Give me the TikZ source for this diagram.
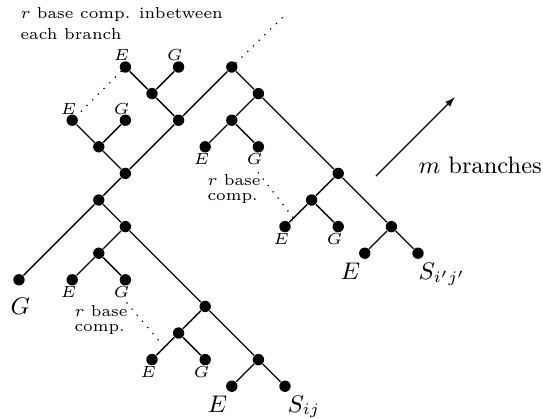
\documentclass[tikz,border=0pt]{standalone}
\usetikzlibrary{arrows.meta,calc}
\begin{document}
\begin{tikzpicture}[x=9.948pt,y=-9.948pt,
  dot/.style={circle,fill=black,inner sep=0pt,minimum size=4.25pt},
  edge/.style={line width=0.5pt},
  dots/.style={line width=0.65pt,dash pattern=on 0pt off 3pt,line cap=round},
  sl/.style={anchor=base west,inner sep=0pt,font=\fontsize{6}{7}\selectfont},
  bl/.style={anchor=base west,inner sep=0pt,font=\fontsize{8.9}{10}\selectfont},
  tl/.style={anchor=base west,inner sep=0pt,font=\fontsize{5.9}{7}\selectfont}]
\useasboundingbox (-0.714,-2.519) rectangle (19.699,13.195);
% right subtree
\node[dot] (a0) at (8,0) {};
\node[dot] (a1) at (9,1) {};
\node[dot] (a2) at (8,2) {};
\node[dot] (a3) at (7,3) {};
\node[dot] (a4) at (9,3) {};
\node[dot] (a5) at (12,4) {};
\node[dot] (a6) at (11,5) {};
\node[dot] (a7) at (10,6) {};
\node[dot] (a8) at (12,6) {};
\node[dot] (a9) at (14,6) {};
\node[dot] (a10) at (13,7) {};
\node[dot] (a11) at (15,7) {};
% left part
\node[dot] (b1) at (4,0) {};
\node[dot] (b2) at (6,0) {};
\node[dot] (b3) at (5,1) {};
\node[dot] (b4) at (6,2) {};
\node[dot] (b5) at (2,2) {};
\node[dot] (b6) at (4,2) {};
\node[dot] (b7) at (3,3) {};
\node[dot] (b8) at (4,4) {};
\node[dot] (b9) at (3,5) {};
\node[dot] (b10) at (0,8) {};
\node[dot] (b11) at (4,6) {};
\node[dot] (b12) at (3,7) {};
\node[dot] (b13) at (2,8) {};
\node[dot] (b14) at (4,8) {};
\node[dot] (b15) at (7,9) {};
\node[dot] (b16) at (6,10) {};
\node[dot] (b17) at (5,11) {};
\node[dot] (b18) at (7,11) {};
\node[dot] (b19) at (9,11) {};
\node[dot] (b20) at (8,12) {};
\node[dot] (b21) at (10,12) {};
% edges
\draw[edge] (b1)--(b3) (b2)--(b3) (b3)--(b4) (b4)--(a0) (b4)--(b8)
  (b5)--(b7) (b6)--(b7) (b7)--(b8) (b8)--(b9) (b9)--(b10) (b9)--(b11)
  (b11)--(b12) (b12)--(b13) (b12)--(b14) (b11)--(b15) (b15)--(b16)
  (b16)--(b17) (b16)--(b18) (b15)--(b19) (b19)--(b20) (b19)--(b21)
  (a0)--(a1) (a1)--(a2) (a2)--(a3) (a2)--(a4) (a1)--(a5) (a5)--(a6)
  (a6)--(a7) (a6)--(a8) (a5)--(a9) (a9)--(a10) (a9)--(a11);
% dotted lines
\coordinate (d0) at (10.08,-2.03);
\coordinate (d1s) at (9,3.98);
\coordinate (d1e) at (10.3,5.65);
\coordinate (d2s) at (4.06,8.87);
\coordinate (d2e) at (5.3,10.34);
\draw[dots] (a0)--(d0);
\draw[dots] (b1)--(b5);
\draw[dots] (d1s)--(d1e);
\draw[dots] (d2s)--(d2e);
% arrow
\coordinate (m0) at (13.42,4.10);
\coordinate (m1) at (16.39,1.13);
\draw[edge,-{Latex[length=3.8pt,width=2.6pt]}] (m0)--(m1);
% small labels above
\node[sl] (lb1) at ($(b1)+(-0.45,-0.23)$) {$E$};
\node[sl] (lb2) at ($(b2)+(-0.45,-0.23)$) {$G$};
\node[sl] (lb5) at ($(b5)+(-0.45,-0.23)$) {$E$};
\node[sl] (lb6) at ($(b6)+(-0.45,-0.23)$) {$G$};
% small labels below
\node[sl] (la3) at ($(a3)+(-0.45,0.68)$) {$E$};
\node[sl] (la4) at ($(a4)+(-0.45,0.68)$) {$G$};
\node[sl] (la7) at ($(a7)+(-0.45,0.68)$) {$E$};
\node[sl] (la8) at ($(a8)+(-0.45,0.68)$) {$G$};
\node[sl] (lb13) at ($(b13)+(-0.45,0.68)$) {$E$};
\node[sl] (lb14) at ($(b14)+(-0.45,0.68)$) {$G$};
\node[sl] (lb17) at ($(b17)+(-0.45,0.68)$) {$E$};
\node[sl] (lb18) at ($(b18)+(-0.45,0.68)$) {$G$};
% big labels
\node[bl] (Lb10) at (-0.338,9.286) {$G$};
\node[bl] (Lb20) at (7.068,12.97) {$E$};
\node[bl] (Lb21) at (10.075,12.97) {$S_{ij}$};
\node[bl] (La10) at (12.068,7.97) {$E$};
\node[bl] (La11) at (15.0,7.97) {$S_{i'j'}$};
\node[bl] (mb) at (15.0,4.02) {$m$ branches};
% text labels
\node[tl] (t1) at (0.038,-1.823) {$r$ base comp. inbetween};
\node[tl] (t2) at (0.038,-1.034) {each branch};
\node[tl] (t3) at (7.068,4.436) {$r$ base};
\node[tl] (t4) at (7.068,5.0) {comp.};
\node[tl] (t5) at (2.068,9.387) {$r$ base};
\node[tl] (t6) at (2.068,9.951) {comp.};
\end{tikzpicture}
\end{document}
